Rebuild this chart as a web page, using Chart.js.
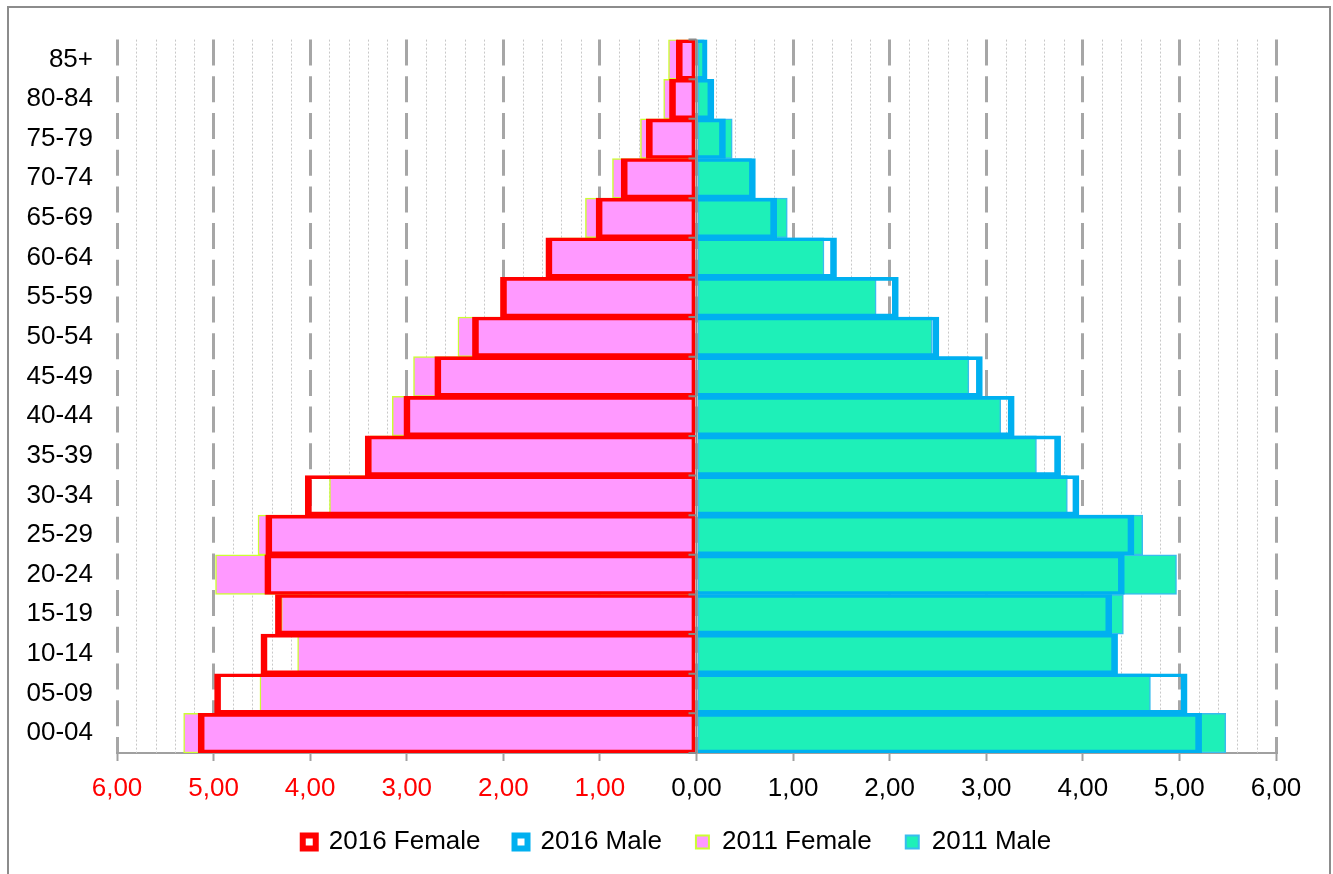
<!DOCTYPE html>
<html>
<head>
<meta charset="utf-8">
<script src="https://cdn.jsdelivr.net/npm/chart.js@4.4.1/dist/chart.umd.min.js"></script>
<style>
  html, body { margin: 0; padding: 0; background: #ffffff; overflow: hidden; }
  canvas { display: block; }
</style>
</head>
<body>
<canvas id="pyramid" width="1333" height="874"></canvas>
<script>
// age groups, youngest first (axis is reversed so 85+ ends up on top)
const ageGroups = ["00-04", "05-09", "10-14", "15-19", "20-24", "25-29", "30-34", "35-39", "40-44",
  "45-49", "50-54", "55-59", "60-64", "65-69", "70-74", "75-79", "80-84", "85+"];

// share of population, %
const female2016 = [5.16, 4.99, 4.51, 4.36, 4.47, 4.46, 4.05, 3.43, 3.03, 2.71, 2.32, 2.03, 1.56, 1.04, 0.78, 0.52, 0.28, 0.21];
const male2016   = [5.23, 5.08, 4.36, 4.30, 4.43, 4.53, 3.96, 3.77, 3.29, 2.96, 2.51, 2.09, 1.45, 0.83, 0.61, 0.30, 0.18, 0.11];
const female2011 = [5.31, 4.52, 4.13, 4.30, 4.98, 4.54, 3.80, 3.38, 3.15, 2.93, 2.47, 1.99, 1.52, 1.15, 0.87, 0.58, 0.34, 0.29];
const male2011   = [5.48, 4.70, 4.33, 4.42, 4.97, 4.62, 3.84, 3.52, 3.15, 2.82, 2.44, 1.86, 1.32, 0.94, 0.57, 0.37, 0.14, 0.08];

const seriesNames = ["2016 Female", "2016 Male", "2011 Female", "2011 Male"];
const axisMax = 6;
const minorStep = 0.2;

const FONT = "'Liberation Sans', Arial, sans-serif";

// women go to the left of zero
const toLeft = (arr) => arr.map(v => -v);

// minor dotted grid, outer frame, solid axis at zero, legend nudge
const extras = {
  id: 'extras',
  afterLayout(chart) {
    const lg = chart.legend;
    lg.left += 35; lg.right += 35;
    lg.top -= 8; lg.bottom -= 8;
  },
  beforeDraw(chart) {
    const ctx = chart.ctx;
    ctx.save();
    ctx.strokeStyle = '#8c8c8c';
    ctx.lineWidth = 2;
    ctx.strokeRect(8, 7, 1322, 900);
    ctx.restore();
  },
  beforeDatasetsDraw(chart) {
    const { ctx, chartArea: a, scales: { x } } = chart;
    ctx.save();
    ctx.strokeStyle = '#c8c8c8';
    ctx.lineWidth = 1;
    ctx.setLineDash([2, 2]);
    const n = Math.round(axisMax / minorStep);
    for (let i = -n; i <= n; i++) {
      if (i % 5 === 0) continue;
      const px = Math.round(x.getPixelForValue(i * minorStep)) + 0.5;
      ctx.beginPath();
      ctx.moveTo(px, a.top);
      ctx.lineTo(px, a.bottom);
      ctx.stroke();
    }
    ctx.restore();
  },
  afterDatasetsDraw(chart) {
    const { ctx, chartArea: a, scales: { x, y } } = chart;
    const x0 = x.getPixelForValue(0);
    const step = Math.abs(y.getPixelForValue(1) - y.getPixelForValue(0));
    ctx.save();
    ctx.strokeStyle = '#8a8a8a';
    ctx.lineWidth = 2;
    ctx.beginPath();
    ctx.moveTo(x0, a.top);
    ctx.lineTo(x0, a.bottom);
    for (let i = 0; i <= ageGroups.length; i++) {
      const py = y.getPixelForValue(i) + step / 2;
      ctx.moveTo(x0 - 8, py);
      ctx.lineTo(x0, py);
    }
    ctx.stroke();
    ctx.restore();
  }
};

const legendLineWidths = [6, 6, 2, 2];

new Chart(document.getElementById('pyramid'), {
  type: 'bar',
  data: {
    labels: ageGroups,
    datasets: [
      {
        label: seriesNames[0],
        data: toLeft(female2016),
        backgroundColor: 'rgba(255,255,255,0)',
        borderColor: '#ff0000',
        borderWidth: { top: 3, bottom: 3, left: 6, right: 3 },
        borderSkipped: false
      },
      {
        label: seriesNames[1],
        data: male2016,
        backgroundColor: 'rgba(255,255,255,0)',
        borderColor: '#00b0f0',
        borderWidth: { top: 3, bottom: 3, left: 0, right: 6 },
        borderSkipped: false
      },
      {
        label: seriesNames[2],
        data: toLeft(female2011),
        backgroundColor: '#ff99ff',
        borderColor: '#ccff33',
        borderWidth: 1.5,
        borderSkipped: false
      },
      {
        label: seriesNames[3],
        data: male2011,
        backgroundColor: '#1ef0b8',
        borderColor: '#38bcef',
        borderWidth: 1.5,
        borderSkipped: false
      }
    ]
  },
  options: {
    indexAxis: 'y',
    responsive: false,
    animation: false,
    grouped: false,
    barPercentage: 1,
    categoryPercentage: 1,
    layout: { padding: { left: 8, top: 35, right: 57, bottom: 1 } },
    scales: {
      x: {
        min: -axisMax,
        max: axisMax,
        afterFit: (s) => { s.height = 50; },
        ticks: {
          stepSize: 1,
          padding: 12,
          font: { family: FONT, size: 26 },
          color: (c) => (c.tick && c.tick.value < 0 ? '#ff0000' : '#000000'),
          callback: (v) => Math.abs(v).toFixed(2).replace('.', ',')
        },
        grid: {
          color: '#a6a6a6',
          lineWidth: 3,
          tickLength: 8,
          tickColor: '#a0a0a0',
          tickWidth: 2
        },
        border: { display: true, color: '#a0a0a0', width: 2, dash: [26, 10.7] }
      },
      y: {
        reverse: true,
        afterFit: (s) => { s.width = 109; },
        ticks: {
          padding: 24,
          color: '#000000',
          font: { family: FONT, size: 26 }
        },
        grid: { display: false, drawTicks: false },
        border: { display: false }
      }
    },
    plugins: {
      tooltip: { enabled: false },
      legend: {
        position: 'bottom',
        labels: {
          boxWidth: 13,
          boxHeight: 13,
          padding: 34,
          color: '#000000',
          font: { family: FONT, size: 26 },
          generateLabels(chart) {
            const items = Chart.defaults.plugins.legend.labels.generateLabels(chart);
            items.forEach((it, i) => {
              it.lineWidth = legendLineWidths[i];
              if (i < 2) it.fillStyle = '#ffffff';
            });
            return items;
          }
        }
      }
    }
  },
  plugins: [extras]
});
</script>
</body>
</html>
